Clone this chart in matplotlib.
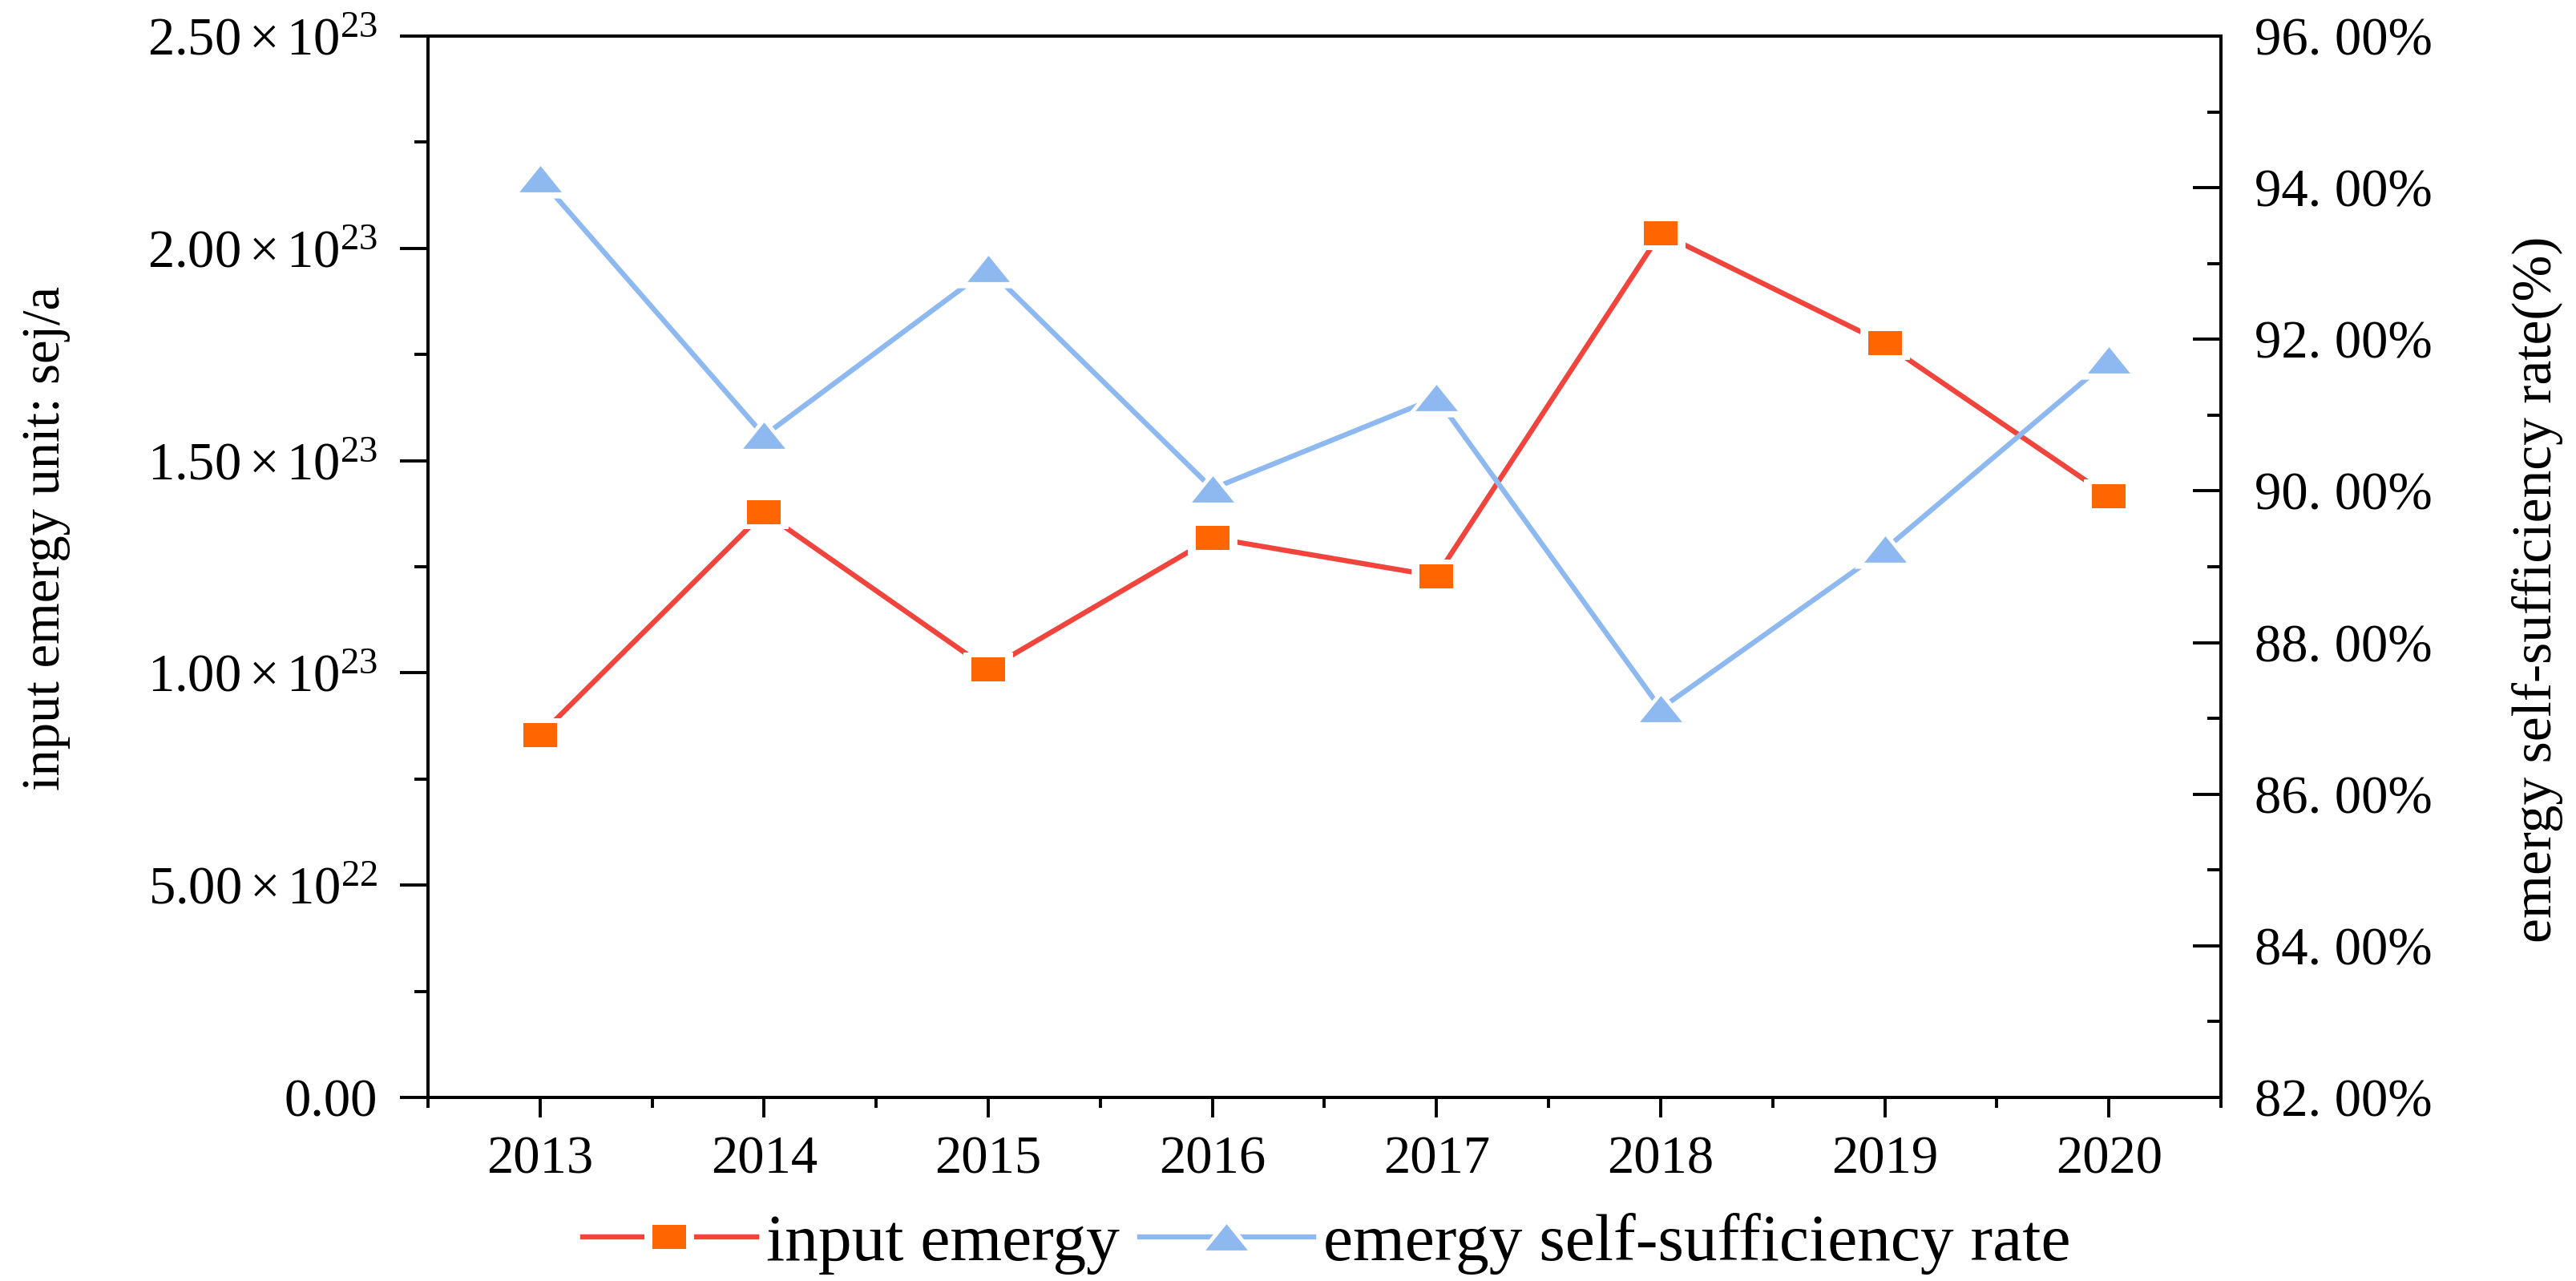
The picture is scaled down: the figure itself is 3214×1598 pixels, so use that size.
import numpy as np
import matplotlib
matplotlib.use("Agg")
import matplotlib.pyplot as plt
from matplotlib.ticker import FixedLocator, MultipleLocator, FuncFormatter

plt.rcParams['font.family'] = ['Liberation Serif', 'DejaVu Serif']
plt.rcParams['mathtext.fontset'] = 'custom'
plt.rcParams['mathtext.rm'] = 'Liberation Serif'
plt.rcParams['mathtext.it'] = 'Liberation Serif:italic'

# data
years = [2013, 2014, 2015, 2016, 2017, 2018, 2019, 2020]
input_emergy = [0.853e23, 1.378e23, 1.009e23, 1.318e23, 1.228e23, 2.036e23, 1.776e23, 1.416e23]
self_rate = [94.12, 90.73, 92.93, 90.03, 91.23, 87.13, 89.23, 91.73]

left_ticks = [0, 0.5e23, 1.0e23, 1.5e23, 2.0e23, 2.5e23]
right_ticks = [82, 84, 86, 88, 90, 92, 94, 96]

red = '#F0443C'
orange = '#FF6600'
blue = '#8DB9F0'
fs = 24

# flat markers like the original (picture is stretched sideways)
rect_mk = [(-1, -0.7), (1, -0.7), (1, 0.7), (-1, 0.7), (-1, -0.7)]
tri_mk = [(0, 0.62), (-1, -0.62), (1, -0.62), (0, 0.62)]

fig = plt.figure(figsize=(16.07, 7.99), dpi=200)
ax = fig.add_axes([0.1661, 0.1433, 0.6961, 0.8285])
ax2 = ax.twinx()

def series(a, x, y, col, fill, mk, ms, gap):
    # line, white halo to cut the line near the marker, then the marker
    ln, = a.plot(x, y, color=col, lw=2.3, zorder=2)
    halo, = a.plot(x, y, ls='none', marker=mk, ms=ms + gap, mfc='white', mec='white', mew=0, zorder=3)
    dot, = a.plot(x, y, ls='none', marker=mk, ms=ms, mfc=fill, mec=fill, mew=0, zorder=4)
    return (ln, halo, dot)

h1 = series(ax, years, input_emergy, red, orange, rect_mk, 15, 7)
h2 = series(ax2, years, self_rate, blue, blue, tri_mk, 19, 9)

ax.set_xlim(2012.5, 2020.5)
ax.set_ylim(0, 2.5e23)
ax2.set_ylim(82, 96)

ax.xaxis.set_major_locator(FixedLocator(years))
ax.xaxis.set_minor_locator(MultipleLocator(0.5))
ax.set_xticklabels([str(y) for y in years])

def sci_fmt(v, pos):
    if v == 0:
        return '0.00'
    e = int(np.floor(np.log10(v)))
    m = v / 10**e
    return r'$\mathregular{%.2f\times10^{%d}}$' % (m, e)

ax.yaxis.set_major_locator(FixedLocator(left_ticks))
ax.yaxis.set_minor_locator(MultipleLocator(0.25e23))
ax.yaxis.set_major_formatter(FuncFormatter(sci_fmt))

ax2.yaxis.set_major_locator(FixedLocator(right_ticks))
ax2.yaxis.set_minor_locator(MultipleLocator(1))
ax2.yaxis.set_major_formatter(FuncFormatter(lambda v, p: ('%.2f' % v).replace('.', '. ') + '%'))

for a in (ax, ax2):
    for s in a.spines.values():
        s.set_linewidth(1.4)

ax.tick_params(axis='x', which='major', direction='out', length=9, width=1.4, labelsize=fs, pad=8)
ax.tick_params(axis='x', which='minor', direction='out', length=4.6, width=1.4)
ax.tick_params(axis='y', which='major', direction='out', length=12.5, width=1.4, labelsize=fs, pad=10)
ax.tick_params(axis='y', which='minor', direction='out', length=6, width=1.4)
ax.tick_params(axis='y', which='both', right=False)
ax2.tick_params(axis='y', which='major', direction='in', length=12.5, width=1.4, labelsize=fs, pad=15)
ax2.tick_params(axis='y', which='minor', direction='in', length=6, width=1.4)

ax.set_ylabel('input emergy unit: sej/a', fontsize=fs, va='center')
ax.yaxis.set_label_coords(0.018, 0.58, transform=fig.transFigure)
ax2.set_ylabel('emergy self-sufficiency rate(%)', fontsize=fs + 1, rotation=90, va='center')
ax2.yaxis.set_label_coords(0.985, 0.54, transform=fig.transFigure)

fig.legend([h1, h2], ['input emergy', 'emergy self-sufficiency rate'],
           loc='center', bbox_to_anchor=(0.515, 0.029), ncol=2, frameon=False,
           fontsize=30, handlelength=2.6, handletextpad=0.15, columnspacing=0.3,
           borderpad=0.0)

fig.savefig('out.png', dpi=200)
